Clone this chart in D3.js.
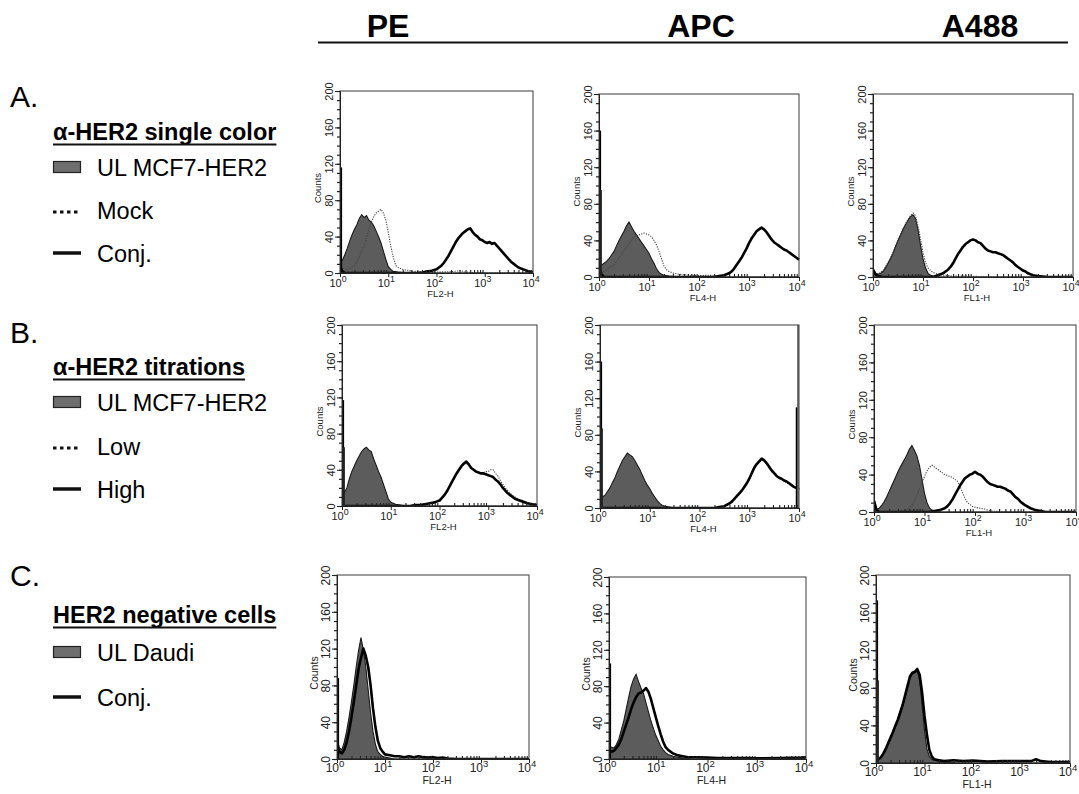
<!DOCTYPE html>
<html><head><meta charset="utf-8">
<script src="https://cdn.jsdelivr.net/npm/d3@7"></script>
<style>body{margin:0;background:#fff}svg{display:block}text{font-family:"Liberation Sans",Arial,sans-serif}</style>
</head><body><svg id="c" width="1079" height="794"></svg>
<script>
// ---------- labels ----------
const channels = ["PE", "APC", "A488"];
const channelAxis = ["FL2-H", "FL4-H", "FL1-H"];
const rowLetters = ["A.", "B.", "C."];
const rowTitles = ["α-HER2 single color", "α-HER2 titrations", "HER2 negative cells"];
const rowLegendLabels = [["UL MCF7-HER2", "Mock", "Conj."], ["UL MCF7-HER2", "Low", "High"], ["UL Daudi", "Conj."]];
const rowLegendKinds = [["fill", "dot", "solid"], ["fill", "dot", "solid"], ["fill", "solid"]];
const yTicks = [0, 40, 80, 120, 160, 200];
const xTicks = [1, 10, 100, 1000, 10000];
const xTickExp = ["0", "1", "2", "3", "4"];

// ---------- data: [log10 intensity, counts] ----------
const A_PE_UL = [[0,10],[.05,14],[.1,20],[.15,27],[.2,35],[.25,42],[.3,48],[.35,53],[.4,60],[.45,64],[.5,61],[.55,63],[.6,58],[.65,56],[.7,52],[.75,46],[.8,40],[.85,33],[.9,24],[.95,15],[1,7],[1.05,4],[1.1,2],[1.2,1],[1.3,.5],[1.5,0],[4,0]];
const A_PE_Mock = [[0,2],[.1,3],[.2,5],[.3,8],[.35,12],[.4,18],[.45,24],[.5,30],[.55,38],[.6,48],[.65,56],[.7,62],[.75,66],[.8,68],[.85,70],[.9,66],[.95,58],[1,45],[1.05,30],[1.1,18],[1.15,9],[1.2,6],[1.3,4],[1.4,3],[1.5,2],[1.7,1.5],[2,1],[2.3,1.5],[2.5,2.5],[2.6,1],[2.8,.5],[3,0],[4,0]];
const A_PE_Conj = [[0,8],[.05,2],[.1,0],[1.6,0],[1.7,.5],[1.8,1.5],[1.9,2.5],[2,4],[2.05,6],[2.1,8],[2.15,11],[2.2,15],[2.25,19],[2.3,24],[2.35,29],[2.4,34],[2.45,38],[2.5,41],[2.55,44],[2.6,46],[2.65,48],[2.7,49],[2.75,45],[2.8,42],[2.85,40],[2.9,37],[2.95,36],[3,34],[3.05,33],[3.1,34],[3.15,32],[3.2,33],[3.25,30],[3.3,27],[3.35,24],[3.4,21],[3.45,18],[3.5,15],[3.55,12],[3.6,10],[3.65,8],[3.7,6],[3.8,4],[3.9,2],[4,1]];
const A_PE_Spikes = [116];

const A_APC_UL = [[0,12],[.05,13],[.1,15],[.15,17],[.2,20],[.25,24],[.3,28],[.35,34],[.4,40],[.45,45],[.5,50],[.55,56],[.6,60],[.65,55],[.7,50],[.75,46],[.8,42],[.85,38],[.9,34],[.95,30],[1,26],[1.05,20],[1.1,15],[1.15,9],[1.2,5],[1.25,3],[1.3,2],[1.4,1],[1.5,.5],[1.7,0],[4,0]];
const A_APC_Mock = [[0,3],[.1,6],[.2,10],[.3,13],[.35,17],[.4,21],[.45,25],[.5,29],[.55,33],[.6,37],[.65,40],[.7,44],[.75,45],[.8,46],[.85,47],[.9,48],[.95,47],[1,46],[1.05,44],[1.1,40],[1.15,35],[1.2,28],[1.25,20],[1.3,12],[1.35,8],[1.4,6],[1.5,4],[1.6,3],[1.7,2.5],[1.8,2],[2,1.5],[2.2,2],[2.3,1],[2.5,.5],[2.7,0],[4,0]];
const A_APC_Conj = [[0,10],[.05,3],[.1,0],[2.3,0],[2.4,1],[2.5,2],[2.6,4],[2.65,6],[2.7,9],[2.75,13],[2.8,17],[2.85,21],[2.9,26],[2.95,31],[3,37],[3.05,42],[3.1,46],[3.15,50],[3.2,52],[3.25,54],[3.3,52],[3.35,49],[3.4,45],[3.45,41],[3.5,38],[3.55,36],[3.6,34],[3.65,32],[3.7,30],[3.75,29],[3.8,27],[3.85,25],[3.9,23],[3.95,21],[4,19]];
const A_APC_Spikes = [160, 95];

const A_A488_UL = [[0,9],[.05,4],[.1,3],[.15,4],[.2,6],[.25,10],[.3,15],[.35,20],[.4,26],[.45,33],[.5,40],[.55,46],[.6,52],[.65,57],[.7,62],[.75,66],[.8,68],[.85,64],[.9,52],[.95,35],[1,20],[1.05,10],[1.1,4],[1.15,2],[1.2,1],[1.3,0],[4,0]];
const A_A488_Mock = [[0,7],[.1,3],[.2,7],[.3,16],[.4,27],[.5,41],[.6,53],[.7,63],[.75,67],[.8,70],[.85,67],[.9,56],[.95,42],[1,27],[1.05,16],[1.1,10],[1.15,7],[1.2,5],[1.3,3],[1.4,2],[1.6,1],[1.8,1],[2.2,.5],[2.5,0],[4,0]];
const A_A488_Conj = [[0,8],[.05,3],[.1,1],[.2,0],[1.2,0],[1.3,2],[1.4,4],[1.45,6],[1.5,8],[1.55,11],[1.6,15],[1.65,20],[1.7,25],[1.75,29],[1.8,33],[1.85,36],[1.9,38],[1.95,40],[2,41],[2.05,40],[2.1,38],[2.15,37],[2.2,34],[2.25,31],[2.3,29],[2.35,28],[2.4,27],[2.45,27],[2.5,26],[2.55,25],[2.6,24],[2.65,22],[2.7,20],[2.75,18],[2.8,16],[2.85,13],[2.9,11],[2.95,9],[3,7],[3.05,6],[3.1,4],[3.2,2],[3.3,1],[3.4,.5],[3.5,0],[4,0]];
const A_A488_Spikes = [];

const B_PE_UL = [[0,10],[.05,15],[.1,20],[.15,30],[.2,38],[.25,44],[.3,50],[.35,55],[.4,60],[.45,63],[.5,65],[.55,62],[.6,60],[.65,52],[.7,45],[.75,38],[.8,32],[.85,24],[.9,16],[.95,8],[1,4],[1.05,3],[1.1,2],[1.2,1],[1.3,0],[4,0]];
const B_PE_Low = [[0,0],[1.4,0],[1.5,1],[1.6,1],[1.7,2],[1.8,3],[1.9,4],[2,6],[2.05,9],[2.1,12],[2.15,16],[2.2,21],[2.25,26],[2.3,31],[2.35,36],[2.4,40],[2.45,43],[2.5,46],[2.55,47],[2.6,45],[2.65,42],[2.7,40],[2.75,38],[2.8,37],[2.85,37],[2.9,37],[2.95,38],[3,38],[3.05,40],[3.1,40],[3.15,36],[3.2,33],[3.25,28],[3.3,24],[3.35,20],[3.4,17],[3.45,14],[3.5,12],[3.6,8],[3.7,6],[3.8,4],[3.9,2],[4,1]];
const B_PE_High = [[0,0],[1.4,0],[1.5,1],[1.6,1],[1.7,2],[1.8,3],[1.9,4],[2,6],[2.05,9],[2.1,12],[2.15,16],[2.2,21],[2.25,26],[2.3,31],[2.35,36],[2.4,40],[2.45,44],[2.5,47],[2.55,49],[2.6,46],[2.65,42],[2.7,40],[2.75,38],[2.8,37],[2.85,36],[2.9,36],[2.95,35],[3,34],[3.05,33],[3.1,32],[3.15,29],[3.2,27],[3.25,24],[3.3,20],[3.35,17],[3.4,14],[3.45,12],[3.5,10],[3.55,8],[3.6,7],[3.7,5],[3.8,3],[3.9,2],[4,1]];
const B_PE_Spikes = [117, 65];

const B_APC_UL = [[0,10],[.05,12],[.1,14],[.15,18],[.2,22],[.25,28],[.3,33],[.35,40],[.4,46],[.45,52],[.5,56],[.55,60],[.6,58],[.65,56],[.7,52],[.75,47],[.8,42],[.85,36],[.9,30],[.95,25],[1,21],[1.05,16],[1.1,12],[1.15,8],[1.2,5],[1.25,3],[1.3,2],[1.4,1],[1.5,0],[4,0]];
const B_APC_Low = [[0,0],[2.3,0],[2.4,1],[2.5,2],[2.6,4],[2.65,6],[2.7,9],[2.75,12],[2.8,15],[2.85,18],[2.9,22],[2.95,26],[3,31],[3.05,37],[3.1,43],[3.15,47],[3.2,50],[3.25,52],[3.3,51],[3.35,48],[3.4,44],[3.45,40],[3.5,37],[3.55,35],[3.6,33],[3.65,31],[3.7,30],[3.75,28],[3.8,26],[3.85,25],[3.9,23],[3.95,21],[4,20]];
const B_APC_High = [[0,0],[2.3,0],[2.4,1],[2.5,2],[2.6,5],[2.65,7],[2.7,10],[2.75,13],[2.8,16],[2.85,19],[2.9,23],[2.95,27],[3,32],[3.05,38],[3.1,44],[3.15,48],[3.2,51],[3.25,54],[3.3,52],[3.35,49],[3.4,45],[3.45,41],[3.5,38],[3.55,35],[3.6,33],[3.65,32],[3.7,30],[3.75,29],[3.8,27],[3.85,25],[3.9,23],[3.95,22],[4,20]];
const B_APC_Spikes = [160, 87];
const B_APC_RightSpikes = [200, 110];

const B_A488_UL = [[0,14],[.05,3],[.1,4],[.15,7],[.2,11],[.25,16],[.3,22],[.35,28],[.4,34],[.45,40],[.5,46],[.55,51],[.6,56],[.65,61],[.7,67],[.75,71],[.8,66],[.85,60],[.9,50],[.95,35],[1,20],[1.05,10],[1.1,4],[1.15,2],[1.2,1],[1.3,0],[4,0]];
const B_A488_Low = [[0,0],[.5,.5],[.6,1],[.65,2],[.7,4],[.75,7],[.8,12],[.85,18],[.9,25],[.95,32],[1,38],[1.05,44],[1.1,48],[1.15,50],[1.2,48],[1.25,46],[1.3,44],[1.35,42],[1.4,40],[1.45,39],[1.5,38],[1.55,37],[1.6,35],[1.65,33],[1.7,28],[1.75,21],[1.8,15],[1.85,10],[1.9,8],[1.95,6],[2,5],[2.1,4],[2.2,3],[2.3,1],[2.5,.5],[2.7,0],[4,0]];
const B_A488_High = [[0,12],[.05,2],[.1,0],[1.1,0],[1.2,1],[1.3,2],[1.4,4],[1.45,6],[1.5,9],[1.55,13],[1.6,18],[1.65,23],[1.7,28],[1.75,32],[1.8,36],[1.85,38],[1.9,40],[1.95,41],[2,43],[2.05,41],[2.1,40],[2.15,38],[2.2,35],[2.25,32],[2.3,30],[2.35,29],[2.4,28],[2.45,27],[2.5,27],[2.55,26],[2.6,25],[2.65,23],[2.7,22],[2.75,19],[2.8,16],[2.85,14],[2.9,11],[2.95,9],[3,7],[3.1,4],[3.2,2],[3.3,1],[3.4,0],[4,0]];
const B_A488_Spikes = [];

const C_PE_UL = [[0,22],[.05,12],[.1,10],[.15,18],[.2,30],[.25,45],[.3,62],[.35,80],[.4,100],[.45,118],[.5,132],[.55,118],[.6,100],[.65,75],[.7,50],[.75,30],[.8,16],[.85,8],[.9,5],[.95,3],[1,2],[1.1,1],[1.2,0],[4,0]];
const C_PE_Conj = [[0,15],[.05,8],[.1,6],[.15,10],[.2,18],[.25,30],[.3,45],[.35,62],[.4,80],[.45,98],[.5,110],[.55,120],[.6,112],[.65,100],[.7,80],[.75,55],[.8,35],[.85,20],[.9,12],[.95,8],[1,5],[1.1,4],[1.2,3],[1.3,3],[1.4,2],[1.5,3],[1.6,2],[1.7,3],[1.8,2],[1.9,1.5],[2,2],[2.1,1],[2.2,1.5],[2.3,.5],[2.5,0],[4,0]];
const C_PE_Spikes = [88];

const C_APC_UL = [[0,15],[.05,13],[.1,12],[.15,16],[.2,22],[.25,32],[.3,42],[.35,55],[.4,68],[.45,80],[.5,88],[.55,93],[.6,85],[.65,78],[.7,72],[.75,62],[.8,52],[.85,42],[.9,34],[.95,26],[1,20],[1.05,14],[1.1,10],[1.15,7],[1.2,5],[1.3,3],[1.4,2],[1.5,1],[1.7,0],[4,0]];
const C_APC_Conj = [[0,10],[.05,8],[.1,9],[.15,12],[.2,16],[.25,22],[.3,30],[.35,38],[.4,46],[.45,55],[.5,62],[.55,68],[.6,72],[.65,73],[.7,75],[.75,78],[.8,74],[.85,66],[.9,56],[.95,46],[1,36],[1.05,27],[1.1,19],[1.15,13],[1.2,10],[1.3,6],[1.4,4],[1.5,3],[1.6,2],[1.8,2],[2,1.5],[2.2,1],[2.5,1],[2.8,1],[3,.8],[3.5,1],[3.9,1.5],[4,2]];
const C_APC_Spikes = [105];

const C_A488_UL = [[0,10],[.05,5],[.1,6],[.15,10],[.2,15],[.25,20],[.3,26],[.35,32],[.4,38],[.45,44],[.5,52],[.55,60],[.6,70],[.65,80],[.7,90],[.75,95],[.8,96],[.85,98],[.9,88],[.95,62],[1,35],[1.05,15],[1.1,7],[1.15,4],[1.2,3],[1.3,2],[1.5,1],[1.7,0],[4,0]];
const C_A488_Conj = [[0,8],[.05,4],[.1,6],[.15,10],[.2,15],[.25,21],[.3,27],[.35,33],[.4,40],[.45,46],[.5,54],[.55,62],[.6,72],[.65,82],[.7,92],[.75,96],[.8,97],[.85,100],[.9,94],[.95,75],[1,50],[1.05,30],[1.1,14],[1.15,7],[1.2,4],[1.3,3],[1.4,2],[1.6,3],[1.8,2],[2,2.5],[2.3,1.5],[2.6,2],[2.9,2],[3.2,2],[3.3,4],[3.4,2],[3.6,1],[4,1]];
const C_A488_Spikes = [173, 88];

// panel content: [fill, dotted, solid] per row/column
const panelFill = [[A_PE_UL, A_APC_UL, A_A488_UL], [B_PE_UL, B_APC_UL, B_A488_UL], [C_PE_UL, C_APC_UL, C_A488_UL]];
const panelDot = [[A_PE_Mock, A_APC_Mock, A_A488_Mock], [B_PE_Low, B_APC_Low, B_A488_Low], [null, null, null]];
const panelSolid = [[A_PE_Conj, A_APC_Conj, A_A488_Conj], [B_PE_High, B_APC_High, B_A488_High], [C_PE_Conj, C_APC_Conj, C_A488_Conj]];
const panelSpikes = [[A_PE_Spikes, A_APC_Spikes, A_A488_Spikes], [B_PE_Spikes, B_APC_Spikes, B_A488_Spikes], [C_PE_Spikes, C_APC_Spikes, C_A488_Spikes]];
const panelRightSpikes = [[[], [], []], [[], B_APC_RightSpikes, []], [[], [], []]];

// ---------- layout ----------
const boxes = [
  [{x0:340,x1:533,y0:91,y1:273},{x0:599,x1:799,y0:94,y1:277},{x0:873,x1:1073,y0:94,y1:277}],
  [{x0:342,x1:537,y0:325,y1:506},{x0:600,x1:799,y0:325,y1:508},{x0:874,x1:1076,y0:325,y1:512}],
  [{x0:337,x1:529,y0:575,y1:759},{x0:609,x1:806,y0:577,y1:759},{x0:876,x1:1070,y0:575,y1:763}]
];
const rowFont = [{tick:11, title:9.5, tickDy:14, titleDy:24}, {tick:11, title:9.5, tickDy:14, titleDy:24}, {tick:12, title:10.5, tickDy:13, titleDy:25}];
const legendY = [
  {letter:107, title:140, items:[176, 219, 262]},
  {letter:343, title:375, items:[411, 455, 498]},
  {letter:586, title:623, items:[661, 706]}
];

const svg = d3.select("#c");
const FILL = "#5c5c5c";

// headers
const headerX = [388, 701, 980];
svg.selectAll("text.hdr").data(channels).join("text").attr("class","hdr")
  .attr("x", (d,i) => headerX[i]).attr("y", 37).attr("text-anchor","middle")
  .attr("font-size", 32).attr("font-weight","bold").text(d => d);
svg.append("line").attr("x1",318).attr("x2",1068).attr("y1",42.5).attr("y2",42.5).attr("stroke","#111").attr("stroke-width",2);

// legends
rowLetters.forEach((L, r) => {
  const g = svg.append("g");
  const ly = legendY[r];
  g.append("text").attr("x", 10).attr("y", ly.letter).attr("font-size", 30).text(L);
  const t = g.append("text").attr("x", 53).attr("y", ly.title).attr("font-size", 23.5).attr("font-weight","bold").text(rowTitles[r]);
  const w = t.node().getComputedTextLength();
  g.append("line").attr("x1",53).attr("x2",53+w).attr("y1",ly.title+4.5).attr("y2",ly.title+4.5).attr("stroke","#111").attr("stroke-width",2);
  rowLegendLabels[r].forEach((lab, k) => {
    const by = ly.items[k];
    const kind = rowLegendKinds[r][k];
    if (kind === "fill") {
      g.append("rect").attr("x",53.5).attr("y",by-14.5).attr("width",27).attr("height",11).attr("fill","#6e6e6e").attr("stroke","#222").attr("stroke-width",1.2);
    } else if (kind === "dot") {
      g.append("line").attr("x1",53).attr("x2",81).attr("y1",by-7).attr("y2",by-7).attr("stroke","#111").attr("stroke-width",3).attr("stroke-dasharray","3.5,3.5");
    } else {
      g.append("line").attr("x1",53).attr("x2",81).attr("y1",by-9).attr("y2",by-9).attr("stroke","#111").attr("stroke-width",3.5);
    }
    g.append("text").attr("x", 97).attr("y", by).attr("font-size", 23.5).text(lab);
  });
});

// panels
for (let r = 0; r < 3; r++) {
  for (let c = 0; c < 3; c++) {
    const b = boxes[r][c];
    const fs = rowFont[r];
    const x = d3.scaleLog().domain([1, 10000]).range([b.x0, b.x1]);
    const y = d3.scaleLinear().domain([0, 200]).range([b.y1, b.y0]);
    const px = d => x(Math.pow(10, d[0]));
    const g = svg.append("g");
    const clipId = `clip${r}${c}`;
    g.append("clipPath").attr("id", clipId).append("rect").attr("x", b.x0).attr("y", b.y0 - 2).attr("width", b.x1 - b.x0 + 1).attr("height", b.y1 - b.y0 + 2);
    const plot = g.append("g").attr("clip-path", `url(#${clipId})`);

    const area = d3.area().x(px).y0(y(0)).y1(d => y(d[1]));
    const line = d3.line().x(px).y(d => y(d[1]));

    plot.append("path").datum(panelFill[r][c]).attr("d", area).attr("fill", FILL).attr("stroke", "#1a1a1a").attr("stroke-width", 1.1);
    if (panelDot[r][c]) {
      plot.append("path").datum(panelDot[r][c]).attr("d", line).attr("fill","none").attr("stroke","#444").attr("stroke-width",1.1).attr("stroke-dasharray","1.2,1.3");
    }
    plot.append("path").datum(panelSolid[r][c]).attr("d", line).attr("fill","none").attr("stroke","#000").attr("stroke-width",2.6).attr("stroke-linejoin","round");
    panelSpikes[r][c].forEach((v, k) => {
      plot.append("line").attr("x1", x(1) + 1 + k*0.8).attr("x2", x(1) + 1 + k*0.8).attr("y1", y(0)).attr("y2", y(v)).attr("stroke", k === 0 ? "#000" : "#222").attr("stroke-width", 2.2);
    });
    panelRightSpikes[r][c].forEach((v, k) => {
      plot.append("line").attr("x1", x(10000) - 1 - k*1.5).attr("x2", x(10000) - 1 - k*1.5).attr("y1", y(0)).attr("y2", y(v)).attr("stroke", k === 0 ? "#777" : "#000").attr("stroke-width", k === 0 ? 2 : 1.5);
    });

    // frame
    g.append("rect").attr("x", b.x0).attr("y", b.y0).attr("width", b.x1 - b.x0).attr("height", b.y1 - b.y0)
      .attr("fill","none").attr("stroke","#3a3a3a").attr("stroke-width",1);

    // y axis minor + major
    const yMinor = [];
    for (let v = 0; v <= 200; v += 10) yMinor.push(v);
    g.append("g").attr("transform", `translate(${b.x0},0)`)
      .call(d3.axisLeft(y).tickValues(yMinor).tickSize(3).tickFormat(""))
      .call(s => { s.select(".domain").remove(); s.selectAll("line").attr("stroke","#222").attr("stroke-width",1.2); });
    const ya = g.append("g").attr("transform", `translate(${b.x0},0)`)
      .call(d3.axisLeft(y).tickValues(yTicks).tickSize(5).tickFormat(d3.format("d")));
    ya.select(".domain").attr("stroke","#222");
    ya.selectAll("line").attr("stroke","#222");
    ya.selectAll("text").attr("transform","rotate(-90)").attr("x",0).attr("y",-7).attr("dy","0")
      .attr("text-anchor","middle").attr("font-size", fs.tick).attr("fill","#222")
      .style("font-family", '"Liberation Sans", Arial, sans-serif');
    g.append("text").attr("transform", `translate(${b.x0 - 19},${(b.y0 + b.y1) / 2 + 6}) rotate(-90)`)
      .attr("text-anchor","middle").attr("font-size", fs.title).attr("fill","#222").text("Counts");

    // x axis
    const xMinor = [];
    for (let e = 0; e < 4; e++) for (let m = 2; m <= 9; m++) xMinor.push(m * Math.pow(10, e));
    g.append("g").attr("transform", `translate(0,${b.y1})`)
      .call(d3.axisBottom(x).tickValues(xMinor).tickSize(-3).tickFormat(""))
      .call(s => { s.select(".domain").remove(); s.selectAll("line").attr("stroke","#222").attr("stroke-width",1.1); });
    const xa = g.append("g").attr("transform", `translate(0,${b.y1})`)
      .call(d3.axisBottom(x).tickValues(xTicks).tickSize(4).tickFormat(""));
    xa.select(".domain").attr("stroke","#222");
    xa.selectAll("line").attr("stroke","#222");
    xTicks.forEach((t, k) => {
      const tx = g.append("text").attr("x", x(t) - 2).attr("y", b.y1 + fs.tickDy).attr("text-anchor","middle")
        .attr("font-size", fs.tick).attr("fill","#222");
      tx.append("tspan").text("10");
      tx.append("tspan").attr("dy", -5).attr("font-size", fs.tick * 0.8).text(xTickExp[k]);
    });
    g.append("text").attr("x", (b.x0 + b.x1) / 2 + 4).attr("y", b.y1 + fs.titleDy).attr("text-anchor","middle")
      .attr("font-size", fs.title).attr("fill","#222").text(channelAxis[c]);
  }
}
</script>
</body></html>
